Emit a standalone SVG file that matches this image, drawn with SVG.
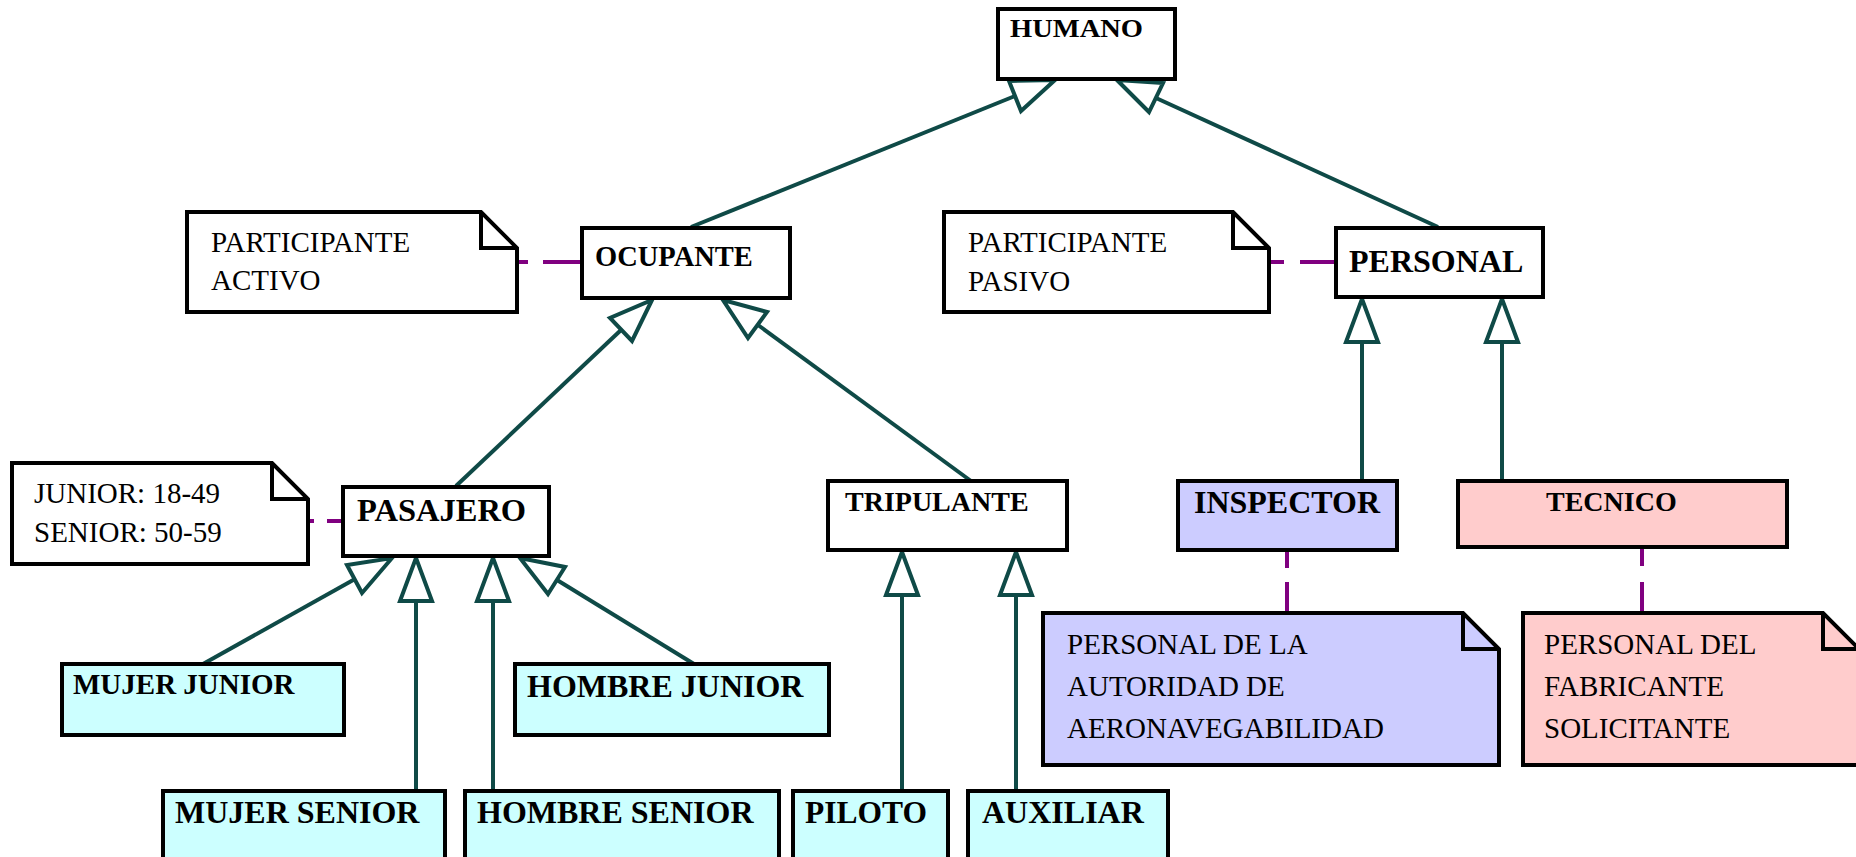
<svg xmlns="http://www.w3.org/2000/svg" width="1856" height="857" viewBox="0 0 1856 857">
<style>
.cls{stroke:#000;stroke-width:4;}
.white{fill:#fff;}
.cyan{fill:#ccffff;}
.lav{fill:#ccccff;}
.pink{fill:#ffcccc;}
.note{stroke:#000;stroke-width:4;stroke-linejoin:miter;}
.fold{fill:none;stroke:#000;stroke-width:4;}
.t{font-family:"Liberation Serif","Times New Roman",serif;font-weight:bold;fill:#000;}
.n{font-family:"Liberation Serif","Times New Roman",serif;font-size:29px;fill:#000;}
.gen{stroke:#0f4a47;stroke-width:4;fill:none;}
.head{stroke:#0f4a47;stroke-width:4;fill:#fff;stroke-linejoin:miter;}
.dep{stroke:#800080;stroke-width:4;fill:none;}
</style>
<rect width="1856" height="857" fill="#fff"/>

<g id="connectors">
  <!-- generalizations -->
  <line class="gen" x1="691" y1="227" x2="1015" y2="96"/>
  <polygon class="head" points="1055,80 1021,111 1009,81"/>
  <line class="gen" x1="1438" y1="227" x2="1156" y2="98"/>
  <polygon class="head" points="1117,80 1163,83 1149,112"/>
  <line class="gen" x1="456" y1="486" x2="621" y2="330"/>
  <polygon class="head" points="652,300 632,341 610,318"/>
  <line class="gen" x1="971" y1="481" x2="758" y2="325"/>
  <polygon class="head" points="723,300 767,312 748,338"/>
  <line class="gen" x1="1362" y1="481" x2="1362" y2="342"/>
  <polygon class="head" points="1362,299 1378,342 1346,342"/>
  <line class="gen" x1="1502" y1="481" x2="1502" y2="342"/>
  <polygon class="head" points="1502,299 1518,342 1486,342"/>
  <line class="gen" x1="203" y1="664" x2="355" y2="579"/>
  <polygon class="head" points="392,558 362,593 347,565"/>
  <line class="gen" x1="416" y1="791" x2="416" y2="601"/>
  <polygon class="head" points="416,558 432,601 400,601"/>
  <line class="gen" x1="493" y1="791" x2="493" y2="601"/>
  <polygon class="head" points="493,558 509,601 477,601"/>
  <line class="gen" x1="694" y1="664" x2="557" y2="580"/>
  <polygon class="head" points="520,558 565,567 548,594"/>
  <line class="gen" x1="902" y1="791" x2="902" y2="595"/>
  <polygon class="head" points="902,552 918,595 886,595"/>
  <line class="gen" x1="1016" y1="791" x2="1016" y2="595"/>
  <polygon class="head" points="1016,552 1032,595 1000,595"/>
  <!-- note attachments -->
  <line class="dep" x1="582" y1="262" x2="517" y2="262" stroke-dasharray="39 15 12 15"/>
  <line class="dep" x1="1336" y1="262" x2="1269" y2="262" stroke-dasharray="36 16 15 16"/>
  <line class="dep" x1="343" y1="521" x2="306" y2="521" stroke-dasharray="16 13 9 13"/>
  <line class="dep" x1="1287" y1="550" x2="1287" y2="613" stroke-dasharray="18 14 31 14"/>
  <line class="dep" x1="1642" y1="547" x2="1642" y2="613" stroke-dasharray="19 16 31 16"/>
</g>

<g id="humano">
  <rect class="cls white" x="998" y="9" width="177" height="70"/>
  <text class="t" x="1010" y="37" font-size="26" textLength="133" lengthAdjust="spacingAndGlyphs">HUMANO</text>
</g>

<g id="note-activo">
  <path class="note white" d="M187,212 H481 L517,248 V312 H187 Z"/>
  <path class="fold" d="M481,212 V248 H517"/>
  <text class="n" x="211" y="252">PARTICIPANTE</text>
  <text class="n" x="211" y="290">ACTIVO</text>
</g>

<g id="ocupante">
  <rect class="cls white" x="582" y="228" width="208" height="70"/>
  <text class="t" x="595" y="266" font-size="28.5">OCUPANTE</text>
</g>

<g id="note-pasivo">
  <path class="note white" d="M944,212 H1233 L1269,248 V312 H944 Z"/>
  <path class="fold" d="M1233,212 V248 H1269"/>
  <text class="n" x="968" y="252">PARTICIPANTE</text>
  <text class="n" x="968" y="291">PASIVO</text>
</g>

<g id="personal">
  <rect class="cls white" x="1336" y="228" width="207" height="69"/>
  <text class="t" x="1349" y="272" font-size="32">PERSONAL</text>
</g>

<g id="note-edades">
  <path class="note white" d="M12,463 H272 L308,499 V564 H12 Z"/>
  <path class="fold" d="M272,463 V499 H308"/>
  <text class="n" x="34" y="503">JUNIOR: 18-49</text>
  <text class="n" x="34" y="542">SENIOR: 50-59</text>
</g>

<g id="pasajero">
  <rect class="cls white" x="343" y="487" width="206" height="69"/>
  <text class="t" x="357" y="521" font-size="32.5">PASAJERO</text>
</g>

<g id="tripulante">
  <rect class="cls white" x="828" y="481" width="239" height="69"/>
  <text class="t" x="845" y="511" font-size="28">TRIPULANTE</text>
</g>

<g id="inspector">
  <rect class="cls lav" x="1178" y="481" width="219" height="69"/>
  <text class="t" x="1194" y="513" font-size="31" textLength="186" lengthAdjust="spacingAndGlyphs">INSPECTOR</text>
</g>

<g id="tecnico">
  <rect class="cls pink" x="1458" y="481" width="329" height="66"/>
  <text class="t" x="1546" y="511" font-size="28">TECNICO</text>
</g>

<g id="note-inspector">
  <path class="note lav" d="M1043,613 H1463 L1499,649 V765 H1043 Z"/>
  <path class="fold" d="M1463,613 V649 H1499"/>
  <text class="n" x="1067" y="654">PERSONAL DE LA</text>
  <text class="n" x="1067" y="696">AUTORIDAD DE</text>
  <text class="n" x="1067" y="738">AERONAVEGABILIDAD</text>
</g>

<g id="note-tecnico">
  <path class="note pink" d="M1523,613 H1823 L1859,649 V765 H1523 Z"/>
  <path class="fold" d="M1823,613 V649 H1859"/>
  <text class="n" x="1544" y="654">PERSONAL DEL</text>
  <text class="n" x="1544" y="696">FABRICANTE</text>
  <text class="n" x="1544" y="738">SOLICITANTE</text>
</g>

<g id="mujer-junior">
  <rect class="cls cyan" x="62" y="664" width="282" height="71"/>
  <text class="t" x="73" y="694" font-size="29">MUJER JUNIOR</text>
</g>

<g id="hombre-junior">
  <rect class="cls cyan" x="515" y="664" width="314" height="71"/>
  <text class="t" x="527" y="697" font-size="32">HOMBRE JUNIOR</text>
</g>

<g id="mujer-senior">
  <rect class="cls cyan" x="163" y="791" width="282" height="80"/>
  <text class="t" x="175" y="823" font-size="32">MUJER SENIOR</text>
</g>

<g id="hombre-senior">
  <rect class="cls cyan" x="465" y="791" width="314" height="80"/>
  <text class="t" x="477" y="823" font-size="32">HOMBRE SENIOR</text>
</g>

<g id="piloto">
  <rect class="cls cyan" x="793" y="791" width="155" height="80"/>
  <text class="t" x="805" y="823" font-size="31.5">PILOTO</text>
</g>

<g id="auxiliar">
  <rect class="cls cyan" x="968" y="791" width="200" height="80"/>
  <text class="t" x="982" y="823" font-size="32">AUXILIAR</text>
</g>
</svg>
